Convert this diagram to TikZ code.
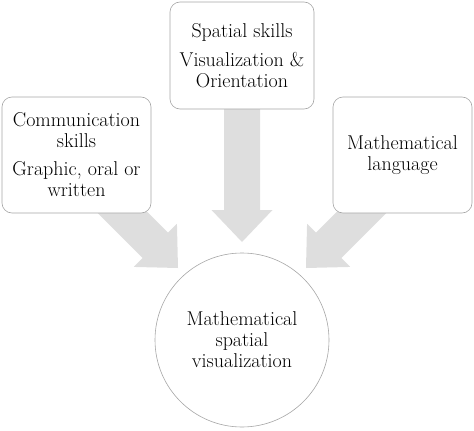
\documentclass[tikz,border=0pt]{standalone}
\usepackage{fontspec}
\setmainfont{Latin Modern Roman}
\begin{document}
\begin{tikzpicture}[x=1pt,y=-1pt,
  boxstyle/.style={draw=black!35, line width=0.6pt, fill=white, rounded corners=10pt, align=center,
    font=\fontsize{20}{21}\selectfont, inner sep=0pt},
  circstyle/.style={draw=black!35, line width=0.6pt, fill=white, circle, align=center,
    font=\fontsize{20}{21}\selectfont, inner sep=0pt, minimum size=174pt},
  blockarrow/.style={fill=black!13, draw=none}]
\useasboundingbox (0,0) rectangle (474,431);
% arrows (drawn first, boxes cover their tails)
\newcommand{\blockarr}[3]{%
  \begin{scope}[shift={(#1)}, rotate=#2]
    \fill[blockarrow] (0,0) -- (-32,30.5) -- (-32,18) -- (-#3,18) -- (-#3,-18) -- (-32,-18) -- (-32,-30.5) -- cycle;
  \end{scope}}
\coordinate (tipL) at (178,268);
\coordinate (tipM) at (242,242);
\coordinate (tipR) at (306,268);
\blockarr{tipL}{-45}{100}
\blockarr{tipM}{-90}{150}
\blockarr{tipR}{-135}{100}
% boxes
\node[boxstyle, minimum width=149pt, minimum height=116pt] (comm) at (76.5,155)
  {Communication\\skills\\[7pt]Graphic, oral or\\written};
\node[boxstyle, minimum width=144pt, minimum height=107pt] (spat) at (242,55.5)
  {Spatial skills\\[8pt]Visualization \&\\Orientation};
\node[boxstyle, minimum width=139pt, minimum height=116pt] (lang) at (402.5,155)
  {Mathematical\\language};
\node[circstyle] (msv) at (242,340) {Mathematical\\spatial\\visualization};
\end{tikzpicture}
\end{document}
